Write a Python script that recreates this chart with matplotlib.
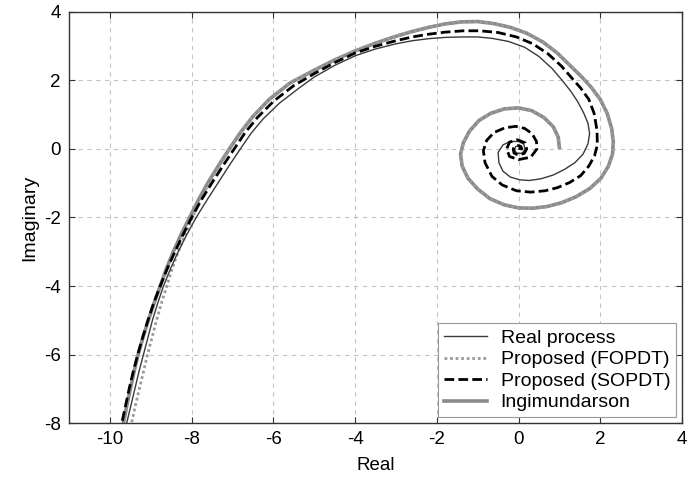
import matplotlib
matplotlib.use("Agg")
import matplotlib.pyplot as plt

plt.rcParams['font.family'] = ['Liberation Sans', 'DejaVu Sans']
plt.rcParams['axes.unicode_minus'] = False

# Nyquist curves, points
real_x = [0.02, 0.07, 0.02, -0.07, -0.1, -0.05, 0.08, 0.16, 0.13, 0.0, -0.2, -0.38, -0.5, -0.48,
          -0.38, -0.2, 0.03, 0.26, 0.55, 0.85, 1.12, 1.38, 1.58, 1.7, 1.74, 1.7, 1.6, 1.45, 1.27,
          1.07, 0.82, 0.5, 0.15, -0.25, -0.65, -1.0, -1.35, -1.75, -2.2, -2.6, -3.0, -3.5, -4.0,
          -4.5, -5.0, -5.37, -5.85, -6.25, -6.55, -6.81, -7.09, -7.36, -7.63, -7.89, -8.12,
          -8.33, -8.52, -8.69, -8.83, -8.96, -9.07, -9.18, -9.29, -9.39, -9.49, -9.59, -9.68]
real_y = [0.02, 0.05, 0.1, 0.07, -0.02, -0.12, -0.13, -0.02, 0.14, 0.22, 0.22, 0.12, -0.1, -0.4,
          -0.65, -0.82, -0.9, -0.92, -0.87, -0.76, -0.6, -0.4, -0.15, 0.15, 0.45, 0.75, 1.04, 1.38, 1.7,
          2.0, 2.35, 2.7, 2.97, 3.14, 3.23, 3.27, 3.27, 3.26, 3.22, 3.16, 3.07, 2.92, 2.72,
          2.44, 2.1, 1.78, 1.34, 0.88, 0.45, 0.0, -0.5, -1.0, -1.5, -2.0, -2.5,
          -3.0, -3.5, -4.0, -4.5, -5.0, -5.5, -6.0, -6.5, -7.0, -7.5, -8.0, -8.5]

fopdt_x = [1.0, 0.97, 0.85, 0.62, 0.32, 0.0, -0.35, -0.68, -0.97, -1.2, -1.35, -1.42, -1.38, -1.24,
           -1.0, -0.7, -0.35, 0.0, 0.35, 0.7, 1.05, 1.4, 1.75, 2.02, 2.2, 2.3, 2.32, 2.28, 2.17,
           2.0, 1.78, 1.55, 1.25, 0.95, 0.6, 0.2, -0.2, -0.6, -1.0, -1.4, -1.8, -2.2, -2.6, -3.0,
           -3.5, -4.0, -4.5, -5.0, -5.6, -6.1, -6.5, -6.8, -7.08, -7.34, -7.58, -7.79,
           -7.98, -8.16, -8.33, -8.48, -8.61, -8.74, -8.86, -8.97, -9.08, -9.18, -9.28, -9.38,
           -9.47, -9.55]
fopdt_y = [0.05, 0.35, 0.65, 0.92, 1.12, 1.2, 1.17, 1.04, 0.83, 0.52, 0.18, -0.15, -0.5, -0.85,
           -1.17, -1.45, -1.63, -1.72, -1.73, -1.68, -1.57, -1.4, -1.15, -0.85, -0.5, -0.15, 0.2, 0.6,
           1.04, 1.45, 1.8, 2.1, 2.45, 2.8, 3.12, 3.38, 3.55, 3.66, 3.72, 3.71, 3.65, 3.55, 3.43,
           3.29, 3.09, 2.86, 2.6, 2.3, 1.92, 1.45, 0.95, 0.49, 0.0, -0.5, -1.0, -1.5,
           -2.0, -2.5, -3.0, -3.5, -4.0, -4.5, -5.0, -5.5, -6.0, -6.5, -7.0, -7.5,
           -8.0, -8.5]

sopdt_x = [0.0, 0.08, 0.06, 0.0, -0.09, -0.13, -0.11, 0.0, 0.14, 0.2, 0.16, -0.03, -0.22, -0.29,
           -0.22, 0.0, 0.3, 0.45, 0.44, 0.33, 0.15, -0.07, -0.33, -0.6, -0.78, -0.86, -0.82, -0.65,
           -0.4, -0.05, 0.3, 0.65, 0.95, 1.25, 1.52, 1.72, 1.86, 1.93, 1.92, 1.85, 1.72, 1.52,
           1.32, 1.05, 0.72, 0.35, -0.05, -0.5, -0.95, -1.35, -1.8, -2.2, -2.6, -3.0, -3.5, -4.0,
           -4.5, -5.0, -5.5, -5.99, -6.39, -6.69, -6.96, -7.24, -7.51, -7.77, -8.0, -8.21,
           -8.41, -8.6, -8.77, -8.93, -9.07, -9.2, -9.32, -9.43, -9.53, -9.62, -9.71, -9.79]
sopdt_y = [0.02, 0.0, 0.07, 0.1, 0.08, 0.0, -0.12, -0.18, -0.13, 0.0, 0.18, 0.27, 0.2, 0.0,
           -0.22, -0.31, -0.24, 0.0, 0.22, 0.45, 0.6, 0.66, 0.62, 0.48, 0.25, -0.05, -0.4, -0.8,
           -1.05, -1.22, -1.26, -1.22, -1.13, -0.98, -0.78, -0.5, -0.2, 0.12, 0.55, 1.04, 1.45, 1.78,
           2.05, 2.42, 2.78, 3.07, 3.27, 3.4, 3.45, 3.45, 3.41, 3.35, 3.27, 3.16, 3.0, 2.8,
           2.52, 2.2, 1.85, 1.4, 0.92, 0.48, 0.0, -0.5, -1.0, -1.5, -2.0, -2.5,
           -3.0, -3.5, -4.0, -4.5, -5.0, -5.5, -6.0, -6.5, -7.0, -7.5, -8.0, -8.5]

ingi_x = [1.0, 0.97, 0.85, 0.62, 0.32, 0.0, -0.35, -0.68, -0.97, -1.2, -1.35, -1.42, -1.38, -1.24,
          -1.0, -0.7, -0.35, 0.0, 0.35, 0.7, 1.05, 1.4, 1.75, 2.02, 2.2, 2.3, 2.32, 2.28, 2.17,
          2.0, 1.78, 1.55, 1.25, 0.95, 0.6, 0.2, -0.2, -0.6, -1.0, -1.4, -1.8, -2.2, -2.6, -3.0,
          -3.5, -4.0, -4.5, -5.0, -5.6, -6.1, -6.5, -6.8, -7.08, -7.35, -7.61, -7.84,
          -8.05, -8.26, -8.45, -8.62, -8.77, -8.92, -9.06, -9.19, -9.31, -9.41, -9.5, -9.59,
          -9.67, -9.75]
ingi_y = [0.05, 0.35, 0.65, 0.92, 1.12, 1.2, 1.17, 1.04, 0.83, 0.52, 0.18, -0.15, -0.5, -0.85,
          -1.17, -1.45, -1.63, -1.72, -1.73, -1.68, -1.57, -1.4, -1.15, -0.85, -0.5, -0.15, 0.2, 0.6,
          1.04, 1.45, 1.8, 2.1, 2.45, 2.8, 3.12, 3.38, 3.55, 3.66, 3.72, 3.71, 3.65, 3.55, 3.43,
          3.29, 3.09, 2.86, 2.6, 2.3, 1.92, 1.45, 0.95, 0.49, 0.0, -0.5, -1.0, -1.5,
          -2.0, -2.5, -3.0, -3.5, -4.0, -4.5, -5.0, -5.5, -6.0, -6.5, -7.0, -7.5,
          -8.0, -8.5]

x_ticks = [-10, -8, -6, -4, -2, 0, 2, 4]
y_ticks = [-8, -6, -4, -2, 0, 2, 4]

fig = plt.figure(figsize=(6.98, 4.78), dpi=100)
ax = fig.add_axes([0.099, 0.115, 0.878, 0.86])

ax.plot(real_x, real_y, color='#3a3a3a', lw=1.0, label='Real process', zorder=4)
ax.plot(fopdt_x, fopdt_y, color='#9a9a9a', lw=2.0, linestyle=(0, (1, 1)),
        label='Proposed (FOPDT)', zorder=3)
ax.plot(sopdt_x, sopdt_y, color='black', lw=2.0, linestyle=(0, (3.5, 1.5)),
        label='Proposed (SOPDT)', zorder=5)
ax.plot(ingi_x, ingi_y, color='#8a8a8a', lw=2.6, label='Ingimundarson', zorder=2)

ax.set_xlim(-11, 4)
ax.set_ylim(-8, 4)
ax.set_xticks(x_ticks)
ax.set_yticks(y_ticks)
ax.tick_params(direction='in', length=4, top=True, right=True, labelsize=13.5,
               color='#333333', pad=6)
ax.grid(True, linestyle=(0, (4, 4)), color='#c4c4c4', lw=0.8)
for s in ax.spines.values():
    s.set_color('#333333')
    s.set_linewidth(1.0)

ax.set_xlabel('Real', fontsize=13.5, labelpad=6)
ax.set_ylabel('Imaginary', fontsize=14, labelpad=4)

leg = ax.legend(loc='lower right', fontsize=14, fancybox=False, framealpha=1,
                edgecolor='#999999', borderaxespad=0.3, labelspacing=0.2,
                handlelength=2.2, handletextpad=0.7, borderpad=0.3)
leg.get_frame().set_linewidth(0.8)

fig.savefig('out.png', dpi=100)
